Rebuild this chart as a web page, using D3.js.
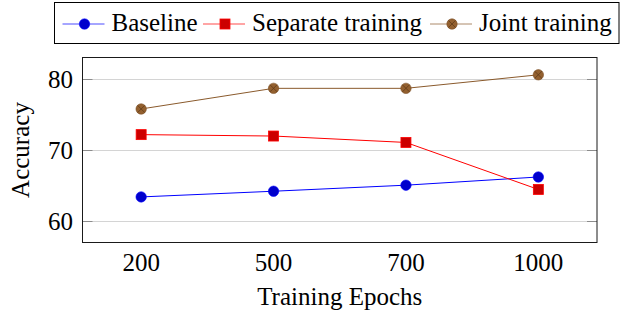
<!DOCTYPE html>
<html>
<head>
<meta charset="utf-8">
<script src="https://cdn.jsdelivr.net/npm/d3@7"></script>
<style>
html,body{margin:0;padding:0;background:#fff;}
svg{display:block;}
text{font-family:"Liberation Serif","Times New Roman",serif;fill:#000;}
</style>
</head>
<body>
<svg id="chart" width="621" height="312"></svg>
<script>
const categories = ["200", "500", "700", "1000"];
const baseline = [63.45, 64.25, 65.1, 66.25];
const separate = [72.2, 72.0, 71.1, 64.5];
const joint = [75.8, 78.7, 78.7, 80.6];
const yTicks = [60, 70, 80];
const seriesNames = ["Baseline", "Separate training", "Joint training"];

const svg = d3.select("#chart");
const L = 82.5, R = 597, T = 57.5, B = 242.5;
const FS = 25;

const x = d3.scalePoint().domain(categories).range([L, R]).padding(0.443);
const y = d3.scaleLinear().domain([57.05, 83.03]).range([B, T]);

// grid lines
svg.append("g").selectAll("line").data(yTicks).join("line")
  .attr("x1", L).attr("x2", R)
  .attr("y1", d => Math.round(y(d)) + 0.5).attr("y2", d => Math.round(y(d)) + 0.5)
  .attr("stroke", "#d4d4d4").attr("stroke-width", 1);
// tick marks (inside, both sides)
const tk = svg.append("g");
tk.selectAll("line.l").data(yTicks).join("line").attr("class", "l")
  .attr("x1", L).attr("x2", L + 10)
  .attr("y1", d => Math.round(y(d)) + 0.5).attr("y2", d => Math.round(y(d)) + 0.5)
  .attr("stroke", "#8c8c8c").attr("stroke-width", 1);
tk.selectAll("line.r").data(yTicks).join("line").attr("class", "r")
  .attr("x1", R - 10).attr("x2", R)
  .attr("y1", d => Math.round(y(d)) + 0.5).attr("y2", d => Math.round(y(d)) + 0.5)
  .attr("stroke", "#8c8c8c").attr("stroke-width", 1);

// y tick labels
svg.append("g").selectAll("text").data(yTicks).join("text")
  .attr("x", 73).attr("y", d => y(d) + 8.5)
  .attr("text-anchor", "end").attr("font-size", FS)
  .text(d => d);

// x tick labels
svg.append("g").selectAll("text").data(categories).join("text")
  .attr("x", d => x(d)).attr("y", 271)
  .attr("text-anchor", "middle").attr("font-size", FS)
  .text(d => d);

// axis titles
svg.append("text").attr("x", (L + R) / 2).attr("y", 305)
  .attr("text-anchor", "middle").attr("font-size", FS).text("Training Epochs");
svg.append("text").attr("transform", `translate(29,${(T + B) / 2}) rotate(-90)`)
  .attr("text-anchor", "middle").attr("font-size", FS).text("Accuracy");

const line = d3.line().x((d, i) => x(categories[i])).y(d => y(d));

const styles = [
  {data: baseline, line: "#0000ff", fill: "#0000cc", mark: "circle"},
  {data: separate, line: "#ff0000", fill: "#cc0000", mark: "square"},
  {data: joint, line: "#8a5a2c", fill: "#93602f", mark: "otimes"}
];

function drawMark(g, mark, cx, cy, s) {
  if (mark === "circle") {
    g.append("circle").attr("cx", cx).attr("cy", cy).attr("r", 5.2)
      .attr("fill", s.fill).attr("stroke", s.line).attr("stroke-width", 0.6);
  } else if (mark === "square") {
    g.append("rect").attr("x", cx - 5).attr("y", cy - 5).attr("width", 10).attr("height", 10)
      .attr("fill", s.fill).attr("stroke", s.line).attr("stroke-width", 0.8);
  } else {
    g.append("circle").attr("cx", cx).attr("cy", cy).attr("r", 5.2)
      .attr("fill", s.fill).attr("stroke", "#7a4e24").attr("stroke-width", 0.6);
    const d = 3.6;
    g.append("path").attr("d", `M${cx - d},${cy - d}L${cx + d},${cy + d}M${cx - d},${cy + d}L${cx + d},${cy - d}`)
      .attr("stroke", "#5a3615").attr("stroke-width", 0.7).attr("fill", "none");
  }
}

styles.forEach(s => {
  svg.append("path").datum(s.data).attr("d", line)
    .attr("fill", "none").attr("stroke", s.line).attr("stroke-width", 1);
  const g = svg.append("g");
  s.data.forEach((v, i) => drawMark(g, s.mark, x(categories[i]), y(v), s));
});

// frame
svg.append("rect").attr("x", L).attr("y", T).attr("width", R - L).attr("height", B - T)
  .attr("fill", "none").attr("stroke", "#1a1a1a").attr("stroke-width", 1);

// legend
svg.append("rect").attr("x", 54.5).attr("y", 2.5).attr("width", 564.5).attr("height", 41)
  .attr("fill", "#fff").attr("stroke", "#000").attr("stroke-width", 1);
const legendX = [62.5, 203, 430];
const legY = 24;
styles.forEach((s, i) => {
  const g = svg.append("g");
  const x0 = legendX[i];
  g.append("line").attr("x1", x0).attr("x2", x0 + 42).attr("y1", legY).attr("y2", legY)
    .attr("stroke", s.line).attr("stroke-width", 1).attr("opacity", 0.7);
  drawMark(g, s.mark, x0 + 22, legY, s);
  g.append("text").attr("x", x0 + 49).attr("y", legY + 7)
    .attr("font-size", FS).text(seriesNames[i]);
});
</script>
</body>
</html>
